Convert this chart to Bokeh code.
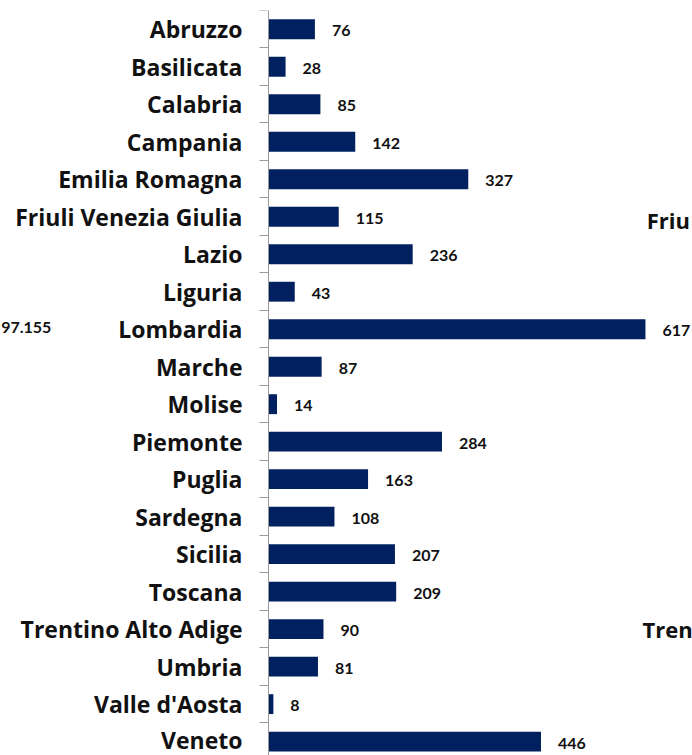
from bokeh.plotting import figure
from bokeh.models import Range1d, FixedTicker, ColumnDataSource, Label
from bokeh.core.properties import value
from bokeh.embed import file_html
from bokeh.resources import INLINE

regions = ["Abruzzo", "Basilicata", "Calabria", "Campania", "Emilia Romagna",
           "Friuli Venezia Giulia", "Lazio", "Liguria", "Lombardia", "Marche",
           "Molise", "Piemonte", "Puglia", "Sardegna", "Sicilia", "Toscana",
           "Trentino Alto Adige", "Umbria", "Valle d'Aosta", "Veneto"]
values = [76, 28, 85, 142, 327, 115, 236, 43, 617, 87,
          14, 284, 163, 108, 207, 209, 90, 81, 8, 446]

# fragments of a neighbouring chart cut by the picture edges
fragments = ["97.155", "Friu", "Tren"]

CAT_FONT = "Open Sans"
VAL_FONT = "Lato"
BAR = "#002060"

pos = list(range(len(regions)))
src = ColumnDataSource(dict(y=pos, v=values, t=[str(v) for v in values]))

p = figure(width=692, height=755, output_backend="svg", toolbar_location=None,
           x_range=Range1d(-438.6, 694), y_range=Range1d(19.37, -0.5),
           min_border_left=0, min_border_right=0, min_border_top=10,
           min_border_bottom=0)
p.outline_line_color = None
p.xgrid.visible = False
p.ygrid.visible = False
p.xaxis.visible = False
p.background_fill_color = "white"
p.border_fill_color = "white"

p.hbar(y="y", right="v", left=0, height=0.53, source=src,
       fill_color=BAR, line_color=None)
p.text(x="v", y="y", text="t", source=src, x_offset=17, y_offset=1.5,
       text_font=value(VAL_FONT), text_font_style="bold", text_font_size="16px",
       text_color="#111111", text_baseline="middle", text_align="left")

ya = p.yaxis[0]
ya.fixed_location = 0
ya.ticker = FixedTicker(ticks=pos, minor_ticks=[i - 0.5 for i in range(len(regions) + 1)])
ya.major_label_overrides = {i: r for i, r in enumerate(regions)}
ya.major_tick_out = 0
ya.major_tick_in = 0
ya.minor_tick_out = 9
ya.minor_tick_in = 0
ya.minor_tick_line_color = "#9a9a9a"
ya.axis_line_color = "#9a9a9a"
ya.major_label_standoff = 17
ya.major_label_text_font = CAT_FONT
ya.major_label_text_font_style = "bold"
ya.major_label_text_font_size = "23px"
ya.major_label_text_color = "#111111"

for txt, xx, yy, al, fnt, fs in [(fragments[0], -437.5, 7.95, "left", VAL_FONT, "16px"),
                                 (fragments[1], 619, 5.1, "left", CAT_FONT, "22px"),
                                 (fragments[2], 612, 16.0, "left", CAT_FONT, "22px")]:
    p.add_layout(Label(x=xx, y=yy, text=txt, text_align=al, text_baseline="middle",
                       text_font=fnt, text_font_style="bold", text_font_size=fs,
                       text_color="#111111"))

open("out.html", "w").write(file_html(p, INLINE))
